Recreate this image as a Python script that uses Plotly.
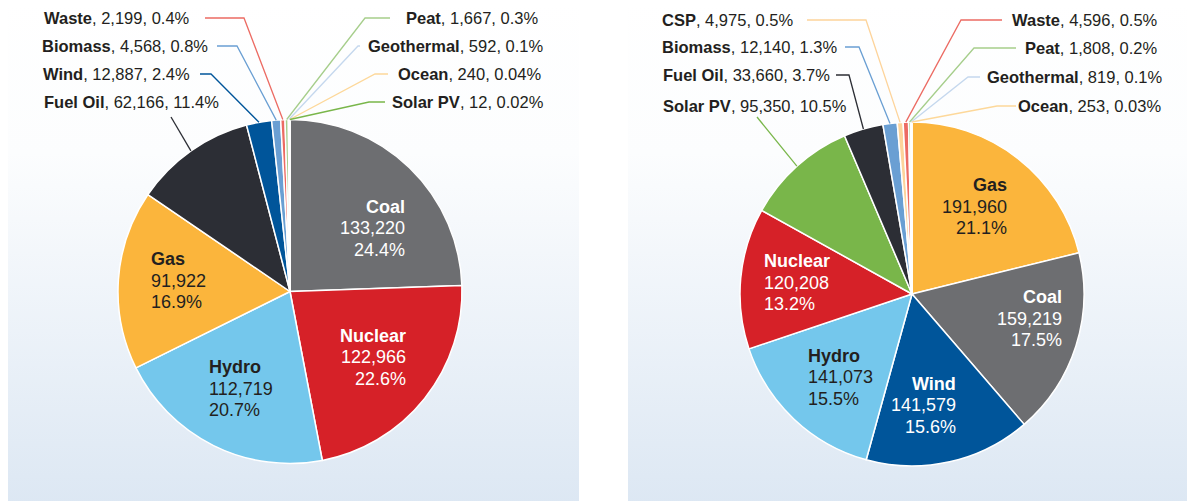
import numpy as np
import plotly.graph_objects as go

W, H = 1195, 501
OFFSET = 8  # the page body margin shifts the figure by 8px

# ---- data -------------------------------------------------------------
left_labels = ["Coal", "Nuclear", "Hydro", "Gas", "Fuel Oil", "Wind", "Biomass",
               "Waste", "Peat", "Geothermal", "Ocean", "Solar PV"]
left_values = [133220, 122966, 112719, 91922, 62166, 12887, 4568, 2199, 1667, 592, 240, 12]
left_pcts = ["24.4%", "22.6%", "20.7%", "16.9%", "11.4%", "2.4%", "0.8%", "0.4%",
             "0.3%", "0.1%", "0.04%", "0.02%"]

right_labels = ["Gas", "Coal", "Wind", "Hydro", "Nuclear", "Solar PV", "Fuel Oil",
                "Biomass", "CSP", "Waste", "Peat", "Geothermal", "Ocean"]
right_values = [191960, 159219, 141579, 141073, 120208, 95350, 33660, 12140, 4975,
                4596, 1808, 819, 253]
right_pcts = ["21.1%", "17.5%", "15.6%", "15.5%", "13.2%", "10.5%", "3.7%", "1.3%",
              "0.5%", "0.5%", "0.2%", "0.1%", "0.03%"]

# ---- styling ----------------------------------------------------------
COLORS = {
    "Coal": "#6d6e71", "Nuclear": "#d62128", "Hydro": "#74c7ec", "Gas": "#fbb53c",
    "Fuel Oil": "#2c2e35", "Wind": "#00559a", "Biomass": "#6a9fd3", "Waste": "#ec6b63",
    "Peat": "#a6ce8b", "Geothermal": "#c5d8ee", "Ocean": "#fdd89a", "Solar PV": "#79b64a",
    "CSP": "#fdd49b",
}
TEXT_DARK = "#231f20"
FONT = "Liberation Sans, Arial, sans-serif"
R = 172
LINE_GAP = 21.5
PANELS = [(0, 579), (628, 1210)]

# inside labels: name -> (text colour, align, radial factor, angle tweak)
# the anchor is the aligned edge of the text block
LEFT_IN = {
    "Coal": ("white", "right", 0.773, 17.7),
    "Nuclear": ("white", "right", 0.786, -9.4),
    "Hydro": (TEXT_DARK, "left", 0.744, 14.0),
    "Gas": (TEXT_DARK, "left", 0.822, 0.5),
}
RIGHT_IN = {
    "Gas": (TEXT_DARK, "right", 0.759, 9.9),
    "Coal": ("white", "right", 0.896, -8.4),
    "Wind": ("white", "right", 0.699, -9.9),
    "Hydro": (TEXT_DARK, "left", 0.783, 8.5),
    "Nuclear": ("white", "left", 0.875, -1.0),
}

# outside labels: name, side, text x, text y, line start x, line start y, elbow x
LEFT_OUT = [
    ("Waste", "left", 192, 18, 205, 18, 244),
    ("Biomass", "left", 210, 46, 217, 46, 237),
    ("Wind", "left", 192, 74, 200, 74, 211),
    ("Fuel Oil", "left", 221, 102, 171, 117, None),
    ("Peat", "right", 404, 18, 390, 18, 365),
    ("Geothermal", "right", 366, 46, 360, 46, 358),
    ("Ocean", "right", 396, 74, 388, 74, 375),
    ("Solar PV", "right", 390, 102, 385, 102, 369),
]
RIGHT_OUT = [
    ("CSP", "left", 796, 20, 807, 20, 866),
    ("Biomass", "left", 840, 47, 845, 47, 859),
    ("Fuel Oil", "left", 832, 75, 836, 75, 849),
    ("Solar PV", "left", 849, 106, 757, 117, None),
    ("Waste", "right", 1010, 20, 1002, 20, 961),
    ("Peat", "right", 1023, 48, 1016, 48, 974),
    ("Geothermal", "right", 985, 77, 980, 77, 968),
    ("Ocean", "right", 1016, 106, 1016, 106, 997),
]


def mid_angles(values):
    v = np.asarray(values, dtype=float)
    cum = np.cumsum(v) / v.sum()
    start = np.concatenate([[0.0], cum[:-1]])
    return (start + cum) / 2 * 360


def polar_px(center, r, ang):
    a = np.radians(ang)
    return center[0] + r * np.sin(a), center[1] - r * np.cos(a)


fig = go.Figure()

# gradient panels (white at the top, pale blue at the bottom)
for x0, x1 in PANELS:
    fig.add_trace(go.Scatter(
        x=[x0, x1, x1, x0, x0], y=[0, 0, H + OFFSET, H + OFFSET, 0],
        mode="none", fill="toself",
        fillgradient=dict(type="vertical",
                          colorscale=[[0, "#dce7f3"], [0.7, "#fcfdfe"], [1, "#ffffff"]]),
        hoverinfo="skip", showlegend=False,
    ))

shapes, annotations = [], []


def add_pie(labels, values, pcts, center, inside, outside):
    px, py = center[0] - OFFSET, center[1] - OFFSET
    domain = dict(x=[(px - R) / W, (px + R) / W],
                  y=[(H - py - R) / H, (H - py + R) / H])
    fig.add_trace(go.Pie(
        labels=labels, values=values, sort=False, direction="clockwise", rotation=0,
        marker=dict(colors=[COLORS[l] for l in labels], line=dict(color="white", width=1.5)),
        textinfo="none", domain=domain, showlegend=False,
        hovertemplate="%{label}: %{value:,}<extra></extra>",
    ))
    mids = dict(zip(labels, mid_angles(values)))
    vals = dict(zip(labels, values))
    pct = dict(zip(labels, pcts))

    for name, (col, align, k, tweak) in inside.items():
        x, y = polar_px(center, k * R, mids[name] + tweak)
        lines = [f"<b>{name}</b>", f"{vals[name]:,}", pct[name]]
        for i, line in enumerate(lines):
            annotations.append(dict(
                x=x, y=y + (i - 1) * LINE_GAP, xref="x", yref="y",
                xanchor=align, yanchor="middle", showarrow=False, text=line,
                font=dict(family=FONT, size=18, color=col),
            ))

    for name, side, tx, ty, sx, sy, ex in outside:
        annotations.append(dict(
            x=tx, y=ty, xref="x", yref="y",
            xanchor="right" if side == "left" else "left", yanchor="middle",
            showarrow=False, text=f"<b>{name}</b>, {vals[name]:,}, {pct[name]}",
            font=dict(family=FONT, size=16.5, color=TEXT_DARK),
        ))
        ax, ay = polar_px(center, R, mids[name])
        if ex is None:
            path = f"M {sx} {sy} L {ax:.1f} {ay:.1f}"
        else:
            path = f"M {sx} {sy} L {ex} {sy} L {ax:.1f} {ay:.1f}"
        shapes.append(dict(type="path", path=path, xref="x", yref="y", layer="above",
                           line=dict(color=COLORS[name], width=1.3)))


add_pie(left_labels, left_values, left_pcts, (290, 291.5), LEFT_IN, LEFT_OUT)
add_pie(right_labels, right_values, right_pcts, (912, 294), RIGHT_IN, RIGHT_OUT)

fig.update_layout(
    width=W, height=H,
    margin=dict(l=0, r=0, t=0, b=0),
    paper_bgcolor="white", plot_bgcolor="rgba(0,0,0,0)",
    xaxis=dict(range=[OFFSET, W + OFFSET], visible=False, fixedrange=True),
    yaxis=dict(range=[H + OFFSET, OFFSET], visible=False, fixedrange=True),
    shapes=shapes, annotations=annotations,
    font=dict(family=FONT),
)

fig.write_html("out.html")
